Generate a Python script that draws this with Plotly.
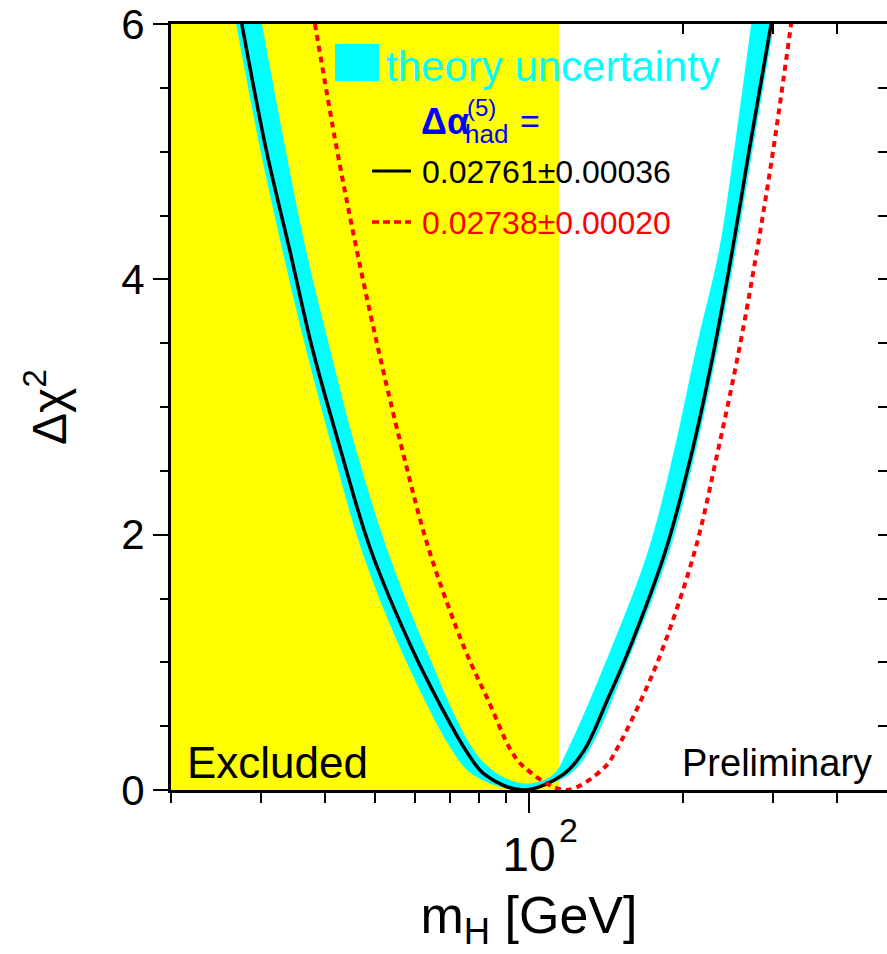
import math
import plotly.graph_objects as go

# ---------------- data ----------------
X_RANGE_GEV = [20, 500]
Y_RANGE = [0, 6]
EXCLUDED_LIMIT_GEV = 114.4

# theory-uncertainty band: outer edge and inner edge (m_H [GeV], delta chi2)
BAND_OUTER_MH = [26.8, 29.9, 33.0, 36.7, 41.4, 47.1, 56.2, 70.8, 77.7, 96.5,
                 119.7, 131.0, 159.1, 188.3, 211.7, 233.2, 253.3, 273.1, 301.0]
BAND_OUTER_CHI2 = [6.0, 5.01, 4.23, 3.45, 2.66, 1.88, 1.10, 0.31, 0.12, 0.0,
                   0.12, 0.31, 1.10, 1.88, 2.66, 3.45, 4.23, 5.01, 6.0]
BAND_INNER_MH = [30.1, 33.5, 36.7, 40.9, 46.0, 52.9, 63.0, 78.1, 87.4, 99.1,
                 111.4, 118.8, 144.4, 171.0, 192.0, 211.7, 235.0, 251.4, 271.5]
BAND_INNER_CHI2 = [6.0, 5.01, 4.23, 3.45, 2.66, 1.88, 1.10, 0.31, 0.12, 0.05,
                   0.12, 0.31, 1.10, 1.88, 2.66, 3.45, 4.23, 5.01, 6.0]

# fit with d_alpha_had = 0.02761 +- 0.00036 (black solid)
FIT_MH = [27.5, 30.7, 34.1, 37.8, 42.9, 49.1, 59.2, 66.3, 75.3, 82.0, 97.3,
          116.5, 128.1, 142.2, 156.8, 184.9, 208.4, 229.8, 249.5, 269.0, 297.0]
FIT_CHI2 = [6.0, 5.01, 4.23, 3.45, 2.66, 1.88, 1.10, 0.705, 0.31, 0.12, 0.0,
            0.12, 0.31, 0.705, 1.10, 1.88, 2.66, 3.45, 4.23, 5.01, 6.0]

# fit with d_alpha_had = 0.02738 +- 0.00020 (red dotted)
ALT_MH = [38.2, 42.2, 46.1, 50.8, 56.6, 63.8, 75.0, 83.2, 92.2, 97.8, 118.0,
          140.7, 147.9, 165.5, 182.1, 211.0, 233.9, 257.2, 278.8, 299.7, 324.9]
ALT_CHI2 = [6.0, 5.01, 4.23, 3.45, 2.66, 1.88, 1.10, 0.705, 0.31, 0.18, 0.0,
            0.18, 0.31, 0.705, 1.10, 1.88, 2.66, 3.45, 4.23, 5.01, 6.0]

X_MAJOR_TICKS = [100]
X_MAJOR_TEXT = ["10"]
X_MAJOR_EXPONENT = "2"
X_MINOR_TICKS = [20, 30, 40, 50, 60, 70, 80, 90, 200, 300, 400]
X_TOP_TICKS = [200, 300, 400]
Y_MAJOR_TICKS = [0, 2, 4, 6]

LEGEND_FIT = "0.02761\u00b10.00036"
LEGEND_ALT = "0.02738\u00b10.00020"

FONT = "Liberation Sans, Arial, Helvetica, sans-serif"
YELLOW = "#ffff00"
CYAN = "#00ffff"
RED = "#ff0000"
BLUE = "#0000ff"

fig = go.Figure()

# excluded region
fig.add_trace(go.Scatter(
    x=[X_RANGE_GEV[0], EXCLUDED_LIMIT_GEV, EXCLUDED_LIMIT_GEV, X_RANGE_GEV[0]],
    y=[Y_RANGE[0], Y_RANGE[0], Y_RANGE[1], Y_RANGE[1]],
    fill="toself", fillcolor=YELLOW, mode="lines", line=dict(width=0),
    hoverinfo="skip", showlegend=False))

# theory band: outer edge, then inner edge filled to it
fig.add_trace(go.Scatter(
    x=BAND_OUTER_MH, y=BAND_OUTER_CHI2, mode="lines",
    line=dict(width=0, color=CYAN, shape="spline", smoothing=1.0),
    hoverinfo="skip", showlegend=False))
fig.add_trace(go.Scatter(
    x=BAND_INNER_MH, y=BAND_INNER_CHI2, mode="lines", fill="tonext",
    fillcolor=CYAN, line=dict(width=0, color=CYAN, shape="spline", smoothing=1.0),
    hoverinfo="skip", showlegend=False))

fig.add_trace(go.Scatter(
    x=FIT_MH, y=FIT_CHI2, mode="lines",
    line=dict(color="black", width=3.5, shape="spline", smoothing=1.0),
    showlegend=False))

fig.add_trace(go.Scatter(
    x=ALT_MH, y=ALT_CHI2, mode="lines",
    line=dict(color=RED, width=4, dash="6px,5px", shape="spline", smoothing=1.0),
    showlegend=False))

# dummy trace for mirrored tick axes
fig.add_trace(go.Scatter(x=[100], y=[3], xaxis="x2", yaxis="y2", mode="markers",
                         marker=dict(opacity=0), hoverinfo="skip", showlegend=False))

xr = [math.log10(X_RANGE_GEV[0]), math.log10(X_RANGE_GEV[1])]

fig.update_layout(
    width=887, height=954,
    margin=dict(l=171, r=0, t=24, b=164),
    paper_bgcolor="white", plot_bgcolor="white",
    font=dict(family=FONT, color="black"),
    xaxis=dict(
        type="log", range=xr, showgrid=False, zeroline=False,
        showline=True, linewidth=3, linecolor="black", mirror=True,
        ticks="outside", tickvals=X_MAJOR_TICKS, ticktext=X_MAJOR_TEXT,
        ticklen=20, tickwidth=2, tickcolor="black",
        tickfont=dict(size=48, family=FONT),
        minor=dict(tickvals=X_MINOR_TICKS, ticks="outside", ticklen=10,
                   tickwidth=2, tickcolor="black", showgrid=False),
        title=dict(text="m<sub>H</sub> [GeV]", font=dict(size=52, family=FONT),
                   standoff=18),
    ),
    yaxis=dict(
        range=Y_RANGE, showgrid=False, zeroline=False,
        showline=True, linewidth=3, linecolor="black", mirror=False,
        ticks="outside", tickvals=Y_MAJOR_TICKS, ticklen=15, tickwidth=2,
        tickcolor="black", tickfont=dict(size=42, family=FONT),
        minor=dict(dtick=0.5, tick0=0, ticks="outside", ticklen=8,
                   tickwidth=2, tickcolor="black", showgrid=False),
        title=dict(text="\u0394\u03c7<sup>2</sup>", font=dict(size=48, family=FONT),
                   standoff=40),
    ),
    xaxis2=dict(
        type="log", range=xr, overlaying="x", side="top", anchor="y",
        showgrid=False, zeroline=False, showline=False, showticklabels=False,
        ticks="inside", tickvals=X_TOP_TICKS, ticklen=10, tickwidth=2,
        tickcolor="black"),
    yaxis2=dict(
        range=Y_RANGE, overlaying="y", side="right", anchor="x",
        showgrid=False, zeroline=False, showline=False, showticklabels=False,
        ticks="inside", tickmode="linear", tick0=0, dtick=0.5, ticklen=9,
        tickwidth=2, tickcolor="black"),
)

def px_x(px):
    return (px - 171) / 716.0

def px_y(py):
    return (790 - py) / 766.0

# legend decorations
fig.add_shape(type="rect", xref="paper", yref="paper",
              x0=px_x(335), x1=px_x(379), y0=px_y(81), y1=px_y(44),
              fillcolor=CYAN, line=dict(width=0))
fig.add_shape(type="line", xref="paper", yref="paper",
              x0=px_x(372), x1=px_x(411), y0=px_y(171), y1=px_y(171),
              line=dict(color="black", width=3))
fig.add_shape(type="line", xref="paper", yref="paper",
              x0=px_x(372), x1=px_x(411), y0=px_y(222), y1=px_y(222),
              line=dict(color=RED, width=3.5, dash="7px,4px"))

def ann(text, px, py, size, color, xanchor="left"):
    fig.add_annotation(text=text, xref="paper", yref="paper",
                       x=px_x(px), y=px_y(py), xanchor=xanchor, yanchor="middle",
                       showarrow=False, font=dict(size=size, color=color, family=FONT))

ann("theory uncertainty", 384, 66, 42, CYAN)
ann("<b>\u0394\u03b1</b>", 419, 121, 36, BLUE)
ann("(5)", 465, 107, 24, BLUE)
ann("had", 463, 134, 26, BLUE)
ann("=", 518, 121, 34, BLUE)
ann(LEGEND_FIT, 420, 172, 32, "black")
ann(LEGEND_ALT, 420, 223, 32, RED)
ann("Excluded", 185, 762, 44, "black")
ann("Preliminary", 874, 763, 38, "black", xanchor="right")
# exponent of the 10^2 tick label
ann(X_MAJOR_EXPONENT, 557, 830, 34, "black")

fig.write_html("out.html")
